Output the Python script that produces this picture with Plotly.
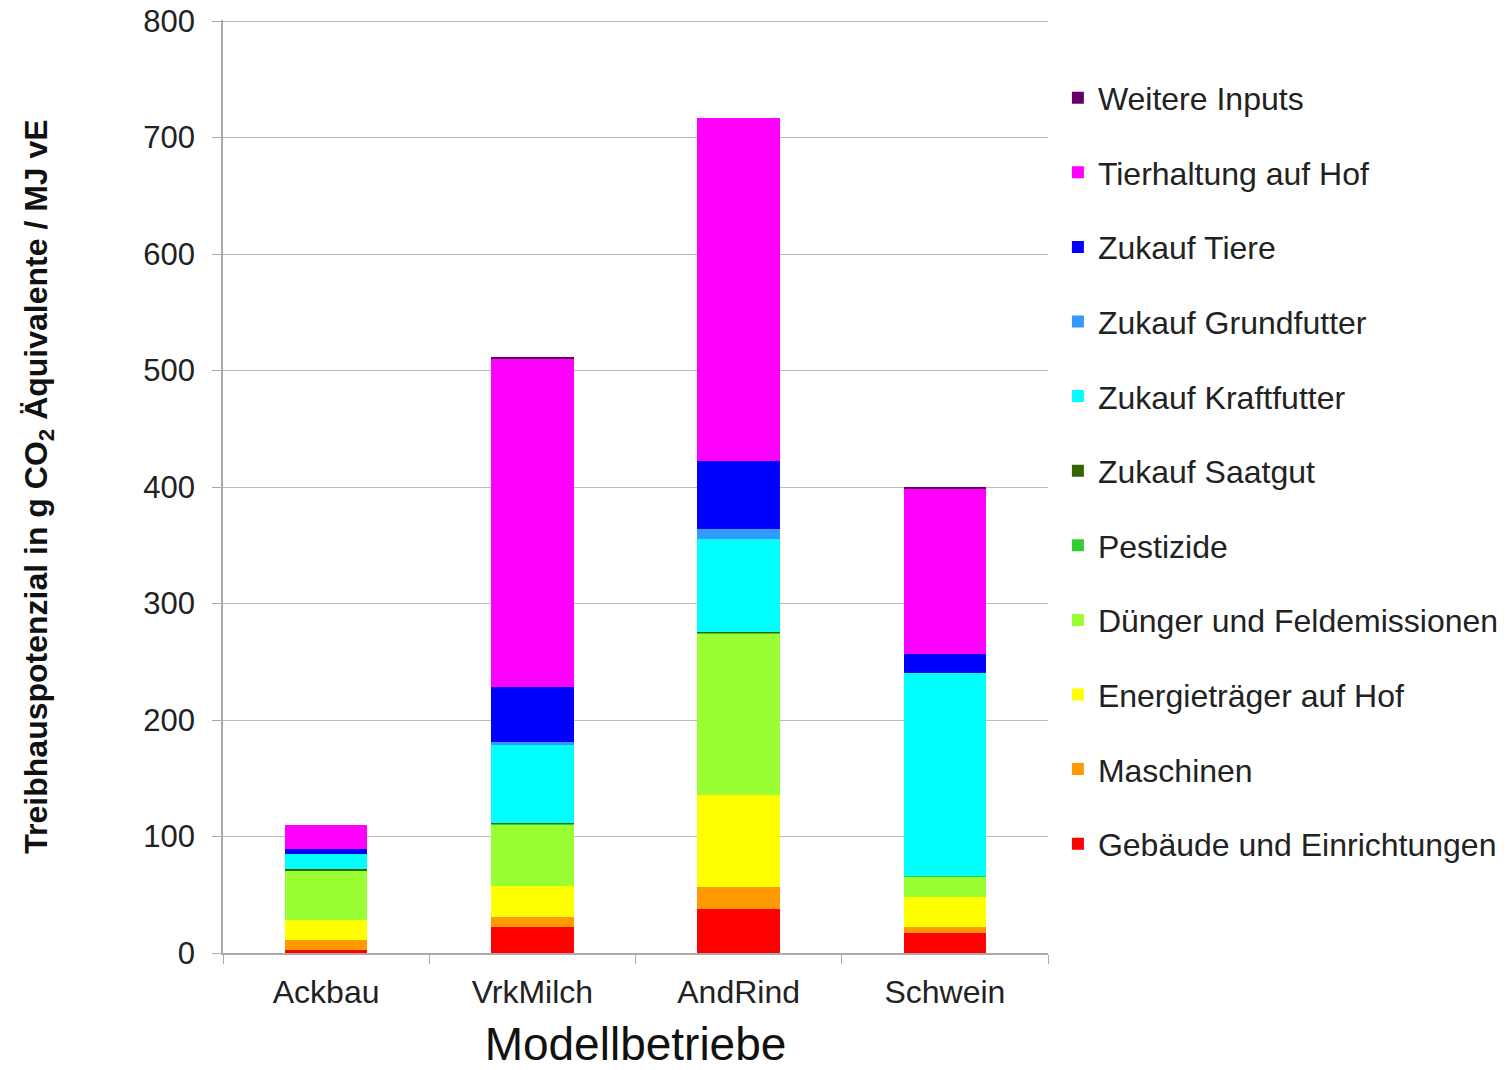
import plotly.graph_objects as go

categories = ["Ackbau", "VrkMilch", "AndRind", "Schwein"]

# bottom to top
series_names = [
    "Gebäude und Einrichtungen",
    "Maschinen",
    "Energieträger auf Hof",
    "Dünger und Feldemissionen",
    "Pestizide",
    "Zukauf Saatgut",
    "Zukauf Kraftfutter",
    "Zukauf Grundfutter",
    "Zukauf Tiere",
    "Tierhaltung auf Hof",
    "Weitere Inputs",
]
series_colors = [
    "#ff0000", "#ff9900", "#ffff00", "#99ff33", "#33cc33", "#336600",
    "#00ffff", "#3399ff", "#0000ff", "#ff00ff", "#660066",
]

gebaeude = [3, 22, 37.5, 17.5]
maschinen = [8.5, 9, 19, 4.5]
energie = [17, 26.5, 79, 26]
duenger = [42.3, 53, 139, 18]
pestizide = [0.2, 0.5, 0.5, 0.3]
saatgut = [1.5, 0.8, 1, 0.2]
kraftfutter = [12.8, 66.5, 79.5, 174]
grundfutter = [0, 3, 8.7, 0]
tiere = [3.8, 47.5, 58, 16]
tierhaltung = [21, 282, 295, 142]
weitere = [0, 1, 0, 1]

values = [gebaeude, maschinen, energie, duenger, pestizide, saatgut,
          kraftfutter, grundfutter, tiere, tierhaltung, weitere]

fig = go.Figure()
for i, (name, col, vals) in enumerate(zip(series_names, series_colors, values)):
    fig.add_trace(go.Bar(
        x=categories, y=vals, name=name, legendgroup=name,
        legendrank=1000 - i,
        marker=dict(color=col, line=dict(width=0)),
    ))

FONT = "Liberation Sans, Arial, sans-serif"
fig.update_layout(
    barmode="stack",
    bargap=0.6,
    width=1504, height=1062,
    margin=dict(l=215, r=464, t=12, b=117, autoexpand=False),
    paper_bgcolor="white", plot_bgcolor="white",
    font=dict(family=FONT, size=32, color="#222222"),
    showlegend=True,
    legend=dict(
        traceorder="grouped",
        x=1.012, xanchor="left", y=0.946, yanchor="top",
        font=dict(family=FONT, size=32, color="#222222"),
        tracegroupgap=30,
        itemwidth=30,
    ),
    xaxis=dict(
        automargin=False,
        showline=True, linecolor="#aaaaaa", linewidth=1.5,
        ticks="outside", tickson="boundaries", ticklen=9, tickcolor="#aaaaaa",
        ticklabelstandoff=10,
        tickfont=dict(size=32),
        title=dict(text="Modellbetriebe", font=dict(size=46, color="#111111"), standoff=28),
    ),
    yaxis=dict(
        automargin=False,
        range=[0, 801], dtick=100, tick0=0,
        showgrid=True, gridcolor="#bbbbbb", gridwidth=1.2,
        showline=True, linecolor="#aaaaaa", linewidth=1.5,
        ticks="outside", ticklen=9, tickcolor="#aaaaaa",
        ticklabelstandoff=11,
        ticklabeloverflow="allow",
        tickfont=dict(size=31),
        zeroline=False,
        title=dict(text="<b>Treibhauspotenzial in g CO<sub>2</sub> Äquivalente / MJ vE</b>",
                   font=dict(size=32, color="#111111"), standoff=86),
    ),
)

fig.write_html("out.html")
